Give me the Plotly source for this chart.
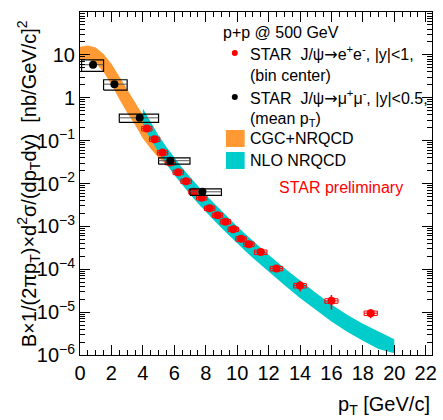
import plotly.graph_objects as go

# ---------------- data ----------------
# STAR J/psi -> e+e-, |y|<1 (bin center)
ee_pt = [4.25, 4.75, 5.25, 5.75, 6.25, 6.75, 7.25, 7.75, 8.25, 8.75, 9.25, 9.75,
         10.25, 10.75, 11.5, 12.5, 14.0, 16.0, 18.5]
ee_val = [0.191, 0.108, 0.0525, 0.0309, 0.0183, 0.0113, 0.00646, 0.00468, 0.00265,
          0.00182, 0.00129, 0.000859, 0.000512, 0.000385, 0.000251, 0.000104,
          4.17e-5, 1.83e-5, 9.46e-6]
ee_stat = [0.04, 0.04, 0.04, 0.04, 0.04, 0.04, 0.05, 0.05, 0.05, 0.05, 0.06, 0.06,
           0.07, 0.08, 0.10, 0.18, 0.27, 0.37, 0.24]          # relative
ee_sys = [0.12] * 19                                          # relative
ee_hw = [0.33] * 14 + [0.4, 0.4, 0.4, 0.42, 0.42]             # box half width

# STAR J/psi -> mu+mu-, |y|<0.5 (mean pT)
mm_pt = [0.83, 2.19, 3.80, 5.75, 7.79]
mm_val = [5.9, 2.07, 0.34, 0.034, 0.0064]
mm_stat = [0.12, 0.08, 0.06, 0.06, 0.08]
mm_sys = [0.30, 0.27, 0.22, 0.17, 0.17]
mm_xlo = [0.1, 1.5, 2.5, 5.0, 7.0]
mm_xhi = [1.5, 3.0, 5.0, 7.0, 9.0]

# CGC+NRQCD band
cgc_pt = [0, 0.5, 1.0, 1.5, 2.0, 2.5, 3.0, 3.5, 4.0, 4.5, 5.0, 5.5, 5.8]
cgc_hi = [15.5, 16.6, 14.8, 10.5, 6.17, 3.09, 1.58, 0.832, 0.398, 0.214, 0.112, 0.063, 0.045]
cgc_lo = [7.76, 7.94, 6.46, 3.98, 2.04, 0.933, 0.447, 0.234, 0.112, 0.0646, 0.0398, 0.0282, 0.0240]

# NLO NRQCD band
nlo_pt = [4.0, 4.5, 5.0, 5.5, 6.0, 6.5, 7.0, 7.5, 8.0, 8.5, 9.0, 9.5, 10.0, 10.5,
          11.0, 11.5, 12.0, 13.0, 14.0, 15.0, 16.0, 17.0, 18.0, 19.0, 20.0]
nlo_hi = [0.562, 0.263, 0.132, 0.0708, 0.0398, 0.0234, 0.0141, 0.00871, 0.00550,
          0.00355, 0.00229, 0.00151, 0.00100, 0.000676, 0.000457, 0.000316,
          0.000219, 0.000107, 5.37e-5, 2.82e-5, 1.51e-5, 8.71e-6, 5.37e-6, 3.47e-6, 2.34e-6]
nlo_lo = [0.240, 0.105, 0.0525, 0.0282, 0.0158, 0.00933, 0.00562, 0.00347, 0.00219,
          0.00141, 0.000912, 0.000603, 0.000398, 0.000269, 0.000182, 0.000126,
          8.71e-5, 4.27e-5, 2.14e-5, 1.12e-5, 6.03e-6, 3.47e-6, 2.14e-6, 1.38e-6, 1.10e-6]

y_tickvals = [1e-6, 1e-5, 1e-4, 1e-3, 1e-2, 1e-1, 1, 10, 100]
y_ticktext = ["10<sup>\u22126</sup>", "10<sup>\u22125</sup>", "10<sup>\u22124</sup>",
              "10<sup>\u22123</sup>", "10<sup>\u22122</sup>", "10<sup>\u22121</sup>",
              "1", "10", "10<sup>2</sup>"]

ORANGE = "#FF9933"
CYAN = "#00CCCC"
FONT = "Liberation Sans, Arial, Helvetica, sans-serif"
ARROW = "<span style='font-family:DejaVu Sans'>\u2192</span>"

fig = go.Figure()

# bands
fig.add_trace(go.Scatter(x=cgc_pt + cgc_pt[::-1], y=cgc_hi + cgc_lo[::-1], fill="toself",
                         fillcolor=ORANGE, mode="lines", line=dict(width=0, color=ORANGE),
                         hoverinfo="skip", showlegend=False))
fig.add_trace(go.Scatter(x=nlo_pt + nlo_pt[::-1], y=nlo_hi + nlo_lo[::-1], fill="toself",
                         fillcolor=CYAN, mode="lines", line=dict(width=0, color=CYAN),
                         hoverinfo="skip", showlegend=False))


def boxes(xlo, xhi, ylo, yhi):
    xs, ys = [], []
    for a, b, c, d in zip(xlo, xhi, ylo, yhi):
        xs += [a, b, b, a, a, None]
        ys += [c, c, d, d, c, None]
    return xs, ys


# red boxes + points
bx, by = boxes([p - h for p, h in zip(ee_pt, ee_hw)], [p + h for p, h in zip(ee_pt, ee_hw)],
               [v * (1 - s) for v, s in zip(ee_val, ee_sys)], [v * (1 + s) for v, s in zip(ee_val, ee_sys)])
fig.add_trace(go.Scatter(x=bx, y=by, mode="lines", line=dict(color="#FF0000", width=1),
                         hoverinfo="skip", showlegend=False))
fig.add_trace(go.Scatter(x=ee_pt, y=ee_val, mode="markers",
                         marker=dict(color="#FF0000", size=8),
                         error_y=dict(type="data", array=[v * s for v, s in zip(ee_val, ee_stat)],
                                      color="#FF0000", thickness=1.5, width=0),
                         error_x=dict(type="data", array=ee_hw, color="#FF0000", thickness=1, width=0),
                         showlegend=False))

# black boxes + points
bx, by = boxes(mm_xlo, mm_xhi,
               [v * (1 - s) for v, s in zip(mm_val, mm_sys)], [v * (1 + s) for v, s in zip(mm_val, mm_sys)])
fig.add_trace(go.Scatter(x=bx, y=by, mode="lines", line=dict(color="#000000", width=1.2),
                         hoverinfo="skip", showlegend=False))
fig.add_trace(go.Scatter(x=mm_pt, y=mm_val, mode="markers",
                         marker=dict(color="#000000", size=8),
                         error_y=dict(type="data", array=[v * s for v, s in zip(mm_val, mm_stat)],
                                      color="#000000", thickness=1.2, width=0),
                         error_x=dict(type="data", symmetric=False,
                                      array=[b - p for b, p in zip(mm_xhi, mm_pt)],
                                      arrayminus=[p - a for a, p in zip(mm_xlo, mm_pt)],
                                      color="#555555", thickness=1, width=0),
                         showlegend=False))

# minor ticks on log axis
minor_vals = [m * 10.0 ** e for e in range(-6, 2) for m in range(2, 10)]

fig.update_layout(
    width=443, height=420,
    margin=dict(l=80, r=6, t=12, b=65),
    paper_bgcolor="white", plot_bgcolor="white",
    font=dict(family=FONT, color="black"),
    xaxis=dict(range=[0, 22.4], tickmode="linear", tick0=0, dtick=2,
               ticks="inside", ticklen=10, tickwidth=1, tickcolor="black",
               mirror="allticks", showline=True, linecolor="black", linewidth=1,
               showgrid=False, zeroline=False, tickfont=dict(size=20),
               minor=dict(ticks="inside", ticklen=5, dtick=0.5, tick0=0, tickcolor="black", showgrid=False)),
    yaxis=dict(type="log", range=[-6, 2], tickmode="array", tickvals=y_tickvals, ticktext=y_ticktext,
               ticks="inside", ticklen=10, tickwidth=1, tickcolor="black",
               mirror="allticks", showline=True, linecolor="black", linewidth=1,
               showgrid=False, zeroline=False, tickfont=dict(size=20),
               minor=dict(tickmode="array", tickvals=minor_vals, ticks="inside", ticklen=5,
                          tickcolor="black", showgrid=False)),
)

W0, W1, H0, H1 = 80, 437, 12, 355


def px(x):
    return (x - W0) / (W1 - W0)


def py(y):
    return (H1 - y) / (H1 - H0)


ann = [
    ("p+p @ 500 GeV", 223, 33, 16, "black"),
    ("STAR  J/\u03c8" + ARROW + "e<sup>+</sup>e<sup>-</sup>, |y|<1,", 250, 53, 16, "black"),
    ("(bin center)", 250, 75, 16, "black"),
    ("STAR  J/\u03c8" + ARROW + "\u03bc<sup>+</sup>\u03bc<sup>-</sup>, |y|<0.5,", 250, 97, 16, "black"),
    ("(mean p<sub>T</sub>)", 250, 119, 16, "black"),
    ("CGC+NRQCD", 250, 138, 16, "black"),
    ("NLO NRQCD", 250, 160, 16, "black"),
    ("STAR preliminary", 280, 187, 16, "#FF0000"),
]
for t, x, y, s, c in ann:
    fig.add_annotation(text=t, x=px(x), y=py(y), xref="paper", yref="paper",
                       xanchor="left", yanchor="middle", showarrow=False,
                       font=dict(size=s, color=c, family=FONT))

# axis titles
fig.add_annotation(text="B\u00d71/(2\u03c0p<sub>T</sub>)\u00d7d<sup>2</sup>\u03c3/(dp<sub>T</sub>dy)  [nb/GeV/c]<sup>2</sup>",
                   x=px(28), y=0.5, xref="paper", yref="paper", textangle=-90,
                   xanchor="center", yanchor="middle", showarrow=False,
                   font=dict(size=20, family=FONT))
fig.add_annotation(text="p<sub>T</sub> [GeV/c]", x=1.0, y=py(406), xref="paper", yref="paper",
                   xanchor="right", yanchor="middle", showarrow=False,
                   font=dict(size=20, family=FONT))

# legend symbols
for col, yc in [("#FF0000", 53), ("#000000", 97)]:
    fig.add_shape(type="circle", xref="paper", yref="paper", xsizemode="pixel", ysizemode="pixel",
                  xanchor=px(237), yanchor=py(yc), x0=-3, x1=3, y0=-3, y1=3,
                  fillcolor=col, line=dict(width=0))
for col, y0, y1 in [(ORANGE, 130, 147), (CYAN, 152, 169)]:
    fig.add_shape(type="rect", xref="paper", yref="paper", x0=px(228), x1=px(247),
                  y0=py(y1), y1=py(y0), fillcolor=col, line=dict(width=0))

fig.write_html("out.html")
